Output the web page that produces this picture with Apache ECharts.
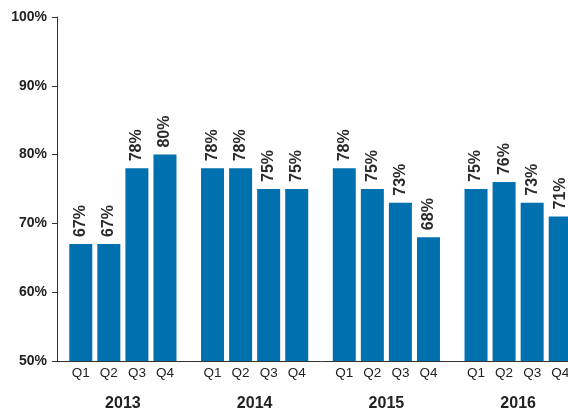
<!DOCTYPE html>
<html><head><meta charset="utf-8">
<script src="https://cdn.jsdelivr.net/npm/echarts@6/dist/echarts.min.js"></script>
<style>html,body{margin:0;padding:0;background:#fff;overflow:hidden;width:568px;height:412px}#c{width:584px;height:412px}</style>
</head><body><div id="c"></div>
<script>
const years = ['2013', '2014', '2015', '2016'];
const quarters = ['Q1', 'Q2', 'Q3', 'Q4'];
const q1 = [67, 78, 78, 75];
const q2 = [67, 78, 75, 76];
const q3 = [78, 75, 73, 73];
const q4 = [80, 75, 68, 71];
const yTicks = [50, 60, 70, 80, 90, 100];
const quarterValues = [q1, q2, q3, q4];

const font = 'Liberation Sans, Arial, Helvetica, sans-serif';
const barColor = '#0071ae';

const series = [];
quarterValues.forEach((vals, i) => {
  series.push({
    type: 'bar', name: quarters[i], xAxisIndex: 0, data: vals,
    barWidth: 23, barGap: '22%',
    itemStyle: { color: barColor },
    label: {
      show: true, position: 'top', rotate: 90, align: 'left', verticalAlign: 'middle',
      distance: 7, formatter: '{c}%', color: '#2a2a2a', fontSize: 16, fontWeight: 'bold', fontFamily: font
    },
    silent: true, animation: false
  });
});
quarterValues.forEach((vals, i) => {
  series.push({
    type: 'bar', name: quarters[i] + 'lbl', xAxisIndex: 1, data: vals,
    barWidth: 23, barGap: '22%',
    itemStyle: { color: 'rgba(0,0,0,0)' },
    label: {
      show: true, position: 'bottom', distance: 5, formatter: quarters[i],
      color: '#222', fontSize: 13.5, fontFamily: font
    },
    silent: true, animation: false
  });
});

const chart = echarts.init(document.getElementById('c'));
chart.setOption({
  animation: false,
  grid: { left: 57, top: 17, right: 0, bottom: 50 },
  xAxis: [{
    type: 'category', data: years,
    axisLine: { lineStyle: { color: '#333', width: 1 } },
    axisTick: { show: false },
    axisLabel: { margin: 35, color: '#222', fontSize: 16, fontWeight: 'bold', fontFamily: font }
  }, {
    type: 'category', data: years, show: false
  }],
  yAxis: {
    type: 'value', min: yTicks[0], max: yTicks[yTicks.length - 1], interval: 10,
    axisLine: { show: true, lineStyle: { color: '#333', width: 1 } },
    axisTick: { show: true, length: 5, lineStyle: { color: '#333' } },
    splitLine: { show: false },
    axisLabel: { margin: 10, formatter: '{value}%', color: '#222', fontSize: 14, fontWeight: 'bold', fontFamily: font }
  },
  series: series
});
</script></body></html>
